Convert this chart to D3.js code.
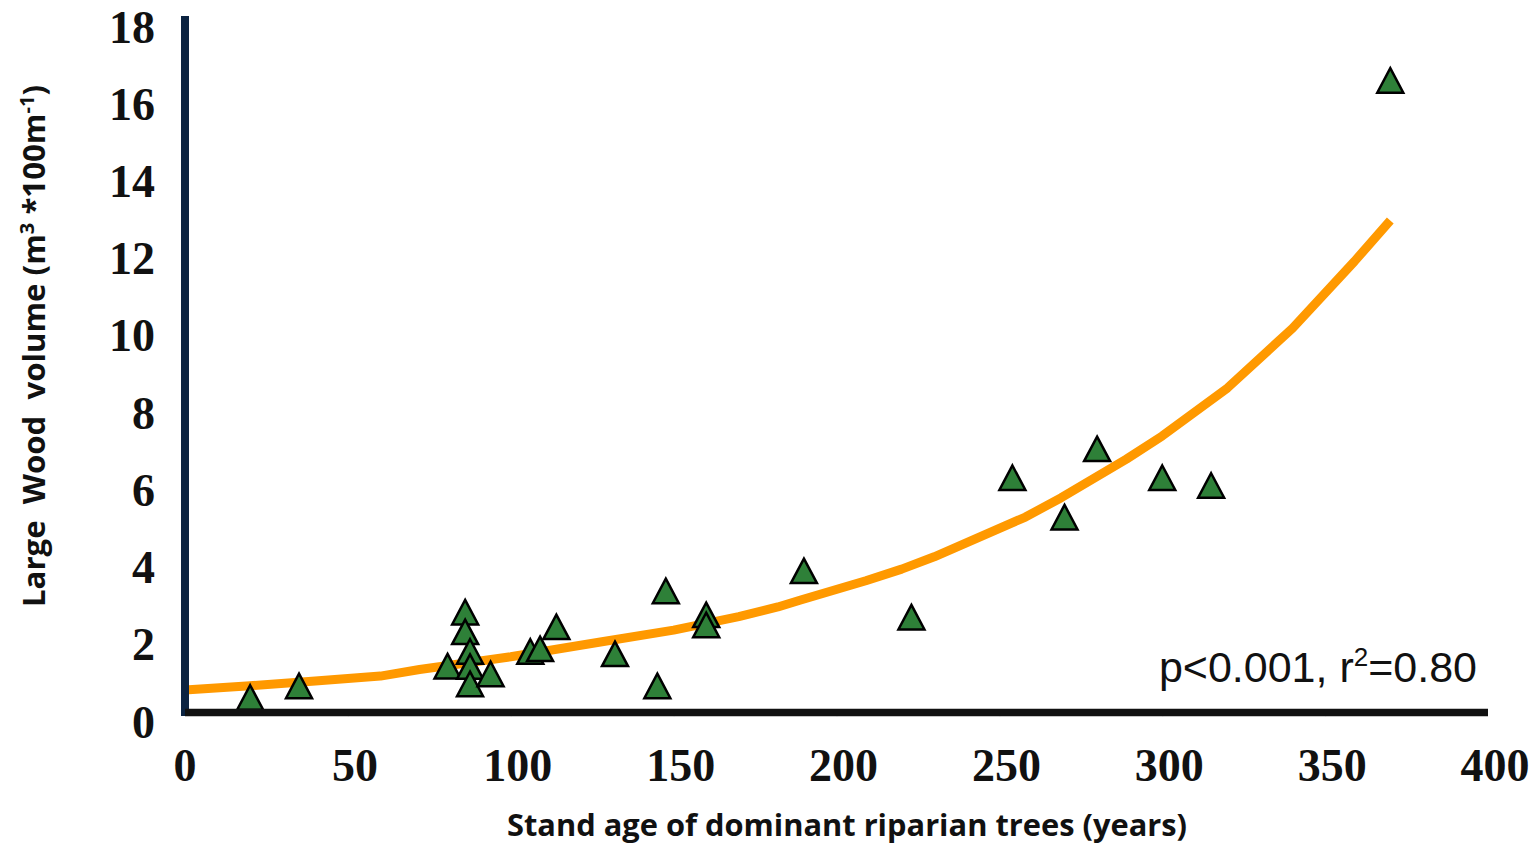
<!DOCTYPE html>
<html>
<head>
<meta charset="utf-8">
<script src="https://cdn.jsdelivr.net/npm/d3@7"></script>
<style>
  html, body { margin: 0; padding: 0; background: #fff; }
  svg { display: block; }
</style>
</head>
<body>
<svg id="chart" width="1539" height="845"></svg>
<script>
// ---- data ----
const standAge = [20, 35, 80.6, 86, 86, 87.5, 87.5, 87.5, 93.8, 106, 109, 114, 132, 145, 147.6, 160, 160, 190, 223, 254, 270, 280, 300, 315, 370];
const woodVolume = [0.37, 0.67, 1.18, 2.58, 2.07, 1.56, 1.17, 0.72, 0.98, 1.56, 1.63, 2.2, 1.5, 0.67, 3.13, 2.51, 2.25, 3.65, 2.45, 6.06, 5.04, 6.81, 6.06, 5.86, 16.35];

// fitted trend curve
const trendAge = [0, 20, 40, 60, 72, 100, 128, 150, 170, 182, 189, 209, 220, 230, 258, 269, 289, 300, 320, 340, 359, 370];
const trendVolume = [0.57, 0.68, 0.80, 0.93, 1.10, 1.43, 1.82, 2.12, 2.47, 2.72, 2.90, 3.40, 3.70, 4.02, 5.05, 5.55, 6.55, 7.15, 8.39, 9.94, 11.67, 12.73];

const xTicks = [0, 50, 100, 150, 200, 250, 300, 350, 400];
const yTicks = [0, 2, 4, 6, 8, 10, 12, 14, 16, 18];

const xTitle = "Stand age of dominant riparian trees (years)";
const statText = "p<0.001, r";
const statSup = "2";
const statEnd = "=0.80";

// ---- drawing ----
const svg = d3.select("#chart");
const x = d3.scaleLinear().domain([0, 400]).range([185, 1488]);
const y = d3.scaleLinear().domain([0, 18]).range([712, 17]);

// trend line
const line = d3.line().x((d, i) => x(trendAge[i])).y((d, i) => y(trendVolume[i])).curve(d3.curveLinear);
svg.append("path")
  .datum(trendVolume)
  .attr("d", line)
  .attr("fill", "none")
  .attr("stroke", "#ff9900")
  .attr("stroke-width", 9)
  .attr("stroke-linejoin", "round");

// points
const tri = "M0,-12.5 L13,12 L-13,12 Z";
svg.append("g").selectAll("path")
  .data(standAge)
  .join("path")
  .attr("transform", (d, i) => `translate(${x(d)},${y(woodVolume[i])})`)
  .attr("d", tri)
  .attr("fill", "#2e8038")
  .attr("stroke", "#000")
  .attr("stroke-width", 2.5)
  .attr("stroke-linejoin", "miter");

// y axis (navy)
const yAxis = d3.axisLeft(y).tickValues(yTicks).tickSize(0).tickFormat("");
const yg = svg.append("g").attr("transform", "translate(185,0)").call(yAxis);
yg.select(".domain").remove();
yg.append("line")
  .attr("x1", 0).attr("x2", 0)
  .attr("y1", y(18) - 1).attr("y2", y(0) + 4)
  .attr("stroke", "#0b2341").attr("stroke-width", 8);
yg.selectAll(".tick").append("line")
  .attr("x1", -4).attr("x2", -1).attr("y1", 0).attr("y2", 0)
  .attr("stroke", "#d9dde3").attr("stroke-width", 1.2);
yg.selectAll(".tick").append("text")
  .attr("x", -30).attr("y", 25)
  .attr("text-anchor", "end")
  .attr("fill", "#111")
  .style("font-family", "'Liberation Serif', 'Times New Roman', serif")
  .style("font-weight", "bold")
  .style("font-size", "46px")
  .text(d => d);

// x axis (black)
const xAxis = d3.axisBottom(x).tickValues(xTicks).tickSize(0).tickFormat("");
const xg = svg.append("g").attr("transform", "translate(0,712.5)").call(xAxis);
xg.select(".domain").remove();
xg.append("line")
  .attr("x1", x(0)).attr("x2", x(400))
  .attr("y1", 0).attr("y2", 0)
  .attr("stroke", "#111").attr("stroke-width", 7.5);
xg.selectAll(".tick").filter(d => d > 0 && d < 400).append("line")
  .attr("x1", 0).attr("x2", 0).attr("y1", 0.5).attr("y2", 4)
  .attr("stroke", "#e8e8e8").attr("stroke-width", 1.2);
xg.selectAll(".tick").append("text")
  .attr("x", d => d === 0 ? -0.5 : 6.5).attr("y", 68)
  .attr("text-anchor", "middle")
  .attr("fill", "#111")
  .style("font-family", "'Liberation Serif', 'Times New Roman', serif")
  .style("font-weight", "bold")
  .style("font-size", "46px")
  .text(d => d);

// axis titles
svg.append("text")
  .attr("x", 847).attr("y", 836)
  .attr("text-anchor", "middle")
  .attr("fill", "#111")
  .attr("textLength", 680)
  .attr("lengthAdjust", "spacingAndGlyphs")
  .style("font-family", "'Open Sans', 'Liberation Sans', sans-serif")
  .style("font-weight", "bold")
  .style("font-size", "31px")
  .text(xTitle);

const yt = svg.append("text")
  .attr("transform", "translate(45,346) rotate(-90)")
  .attr("text-anchor", "middle")
  .attr("fill", "#111")
  .attr("textLength", 522)
  .attr("lengthAdjust", "spacingAndGlyphs")
  .style("font-family", "'Open Sans', 'Liberation Sans', sans-serif")
  .style("font-weight", "bold")
  .style("font-size", "31px")
  .style("white-space", "pre");
yt.append("tspan").text("Large\u00a0 Wood\u00a0 volume (m");
yt.append("tspan").attr("dy", -11).style("font-size", "20px").text("3");
yt.append("tspan").attr("dy", 11).text(" *100m");
yt.append("tspan").attr("dy", -11).style("font-size", "20px").text("-1");
yt.append("tspan").attr("dy", 11).text(")");

// statistics annotation
const st = svg.append("text")
  .attr("x", 1477).attr("y", 682)
  .attr("text-anchor", "end")
  .attr("fill", "#111")
  .style("font-family", "'Liberation Sans', Arial, sans-serif")
  .style("font-size", "43px");
st.append("tspan").text(statText);
st.append("tspan").attr("dy", -16).style("font-size", "26px").text(statSup);
st.append("tspan").attr("dy", 16).text(statEnd);
</script>
</body>
</html>
